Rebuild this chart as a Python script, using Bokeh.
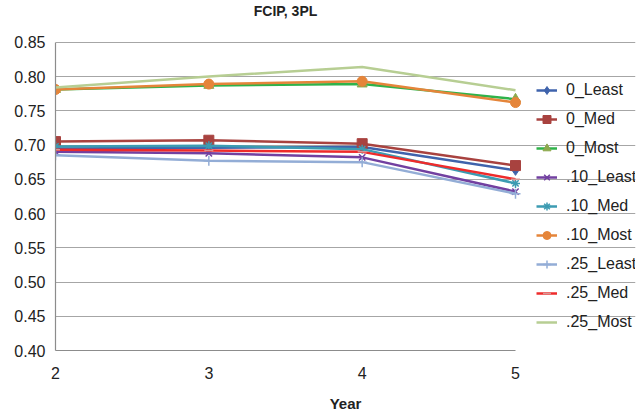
from bokeh.plotting import figure
from bokeh.models import Legend, LegendItem, FixedTicker, NumeralTickFormatter, Range1d, Label
from bokeh.embed import file_html
from bokeh.resources import INLINE

years = [2, 3, 4, 5]
series_names = ["0_Least", "0_Med", "0_Most", ".10_Least", ".10_Med", ".10_Most",
                ".25_Least", ".25_Med", ".25_Most"]
v_0_least = [0.695, 0.696, 0.697, 0.663]
v_0_med = [0.705, 0.707, 0.702, 0.670]
v_0_most = [0.781, 0.787, 0.789, 0.767]
v_10_least = [0.690, 0.688, 0.682, 0.632]
v_10_med = [0.698, 0.699, 0.694, 0.644]
v_10_most = [0.781, 0.789, 0.793, 0.762]
v_25_least = [0.685, 0.677, 0.675, 0.629]
v_25_med = [0.693, 0.692, 0.690, 0.650]
v_25_most = [0.784, 0.800, 0.814, 0.780]
y_ticks = [0.40, 0.45, 0.50, 0.55, 0.60, 0.65, 0.70, 0.75, 0.80, 0.85]
x_ticks = [2, 3, 4, 5]
title_text = "FCIP, 3PL"

values = [v_0_least, v_0_med, v_0_most, v_10_least, v_10_med, v_10_most,
          v_25_least, v_25_med, v_25_most]
line_colors = ["#3F63AC", "#A8423F", "#2FB24A", "#7240A0", "#3C9BB2", "#E5853A",
               "#93ADD6", "#EE2B2B", "#B7CE93"]
marker_colors = ["#3F63AC", "#A8423F", "#8CA84C", "#7240A0", "#3C9BB2", "#E5853A",
                 "#93ADD6", "#D99694", "#B7CE93"]
markers = ["diamond", "square", "triangle", "x", "asterisk", "circle", "cross", "dash", None]
msizes = [10, 10, 10, 9, 9, 10, 10, 9, 0]

# data area: x 55..515 px, y 42..352 px; frame extended to host legend and title
ppx = 460 / 3
ppy = 310 / 0.45
x_end = 2 + 580 / ppx
y_end = 0.85 + 38 / ppy

p = figure(width=639, height=414, output_backend="svg", toolbar_location=None,
           x_range=Range1d(2, x_end), y_range=Range1d(0.40, y_end),
           min_border_left=55, min_border_right=4, min_border_top=4, min_border_bottom=62)
p.outline_line_color = None
p.background_fill_color = "white"
p.border_fill_color = "white"

p.xgrid.grid_line_color = None
p.ygrid.grid_line_color = "#A6A6A6"
p.ygrid.grid_line_width = 1.2
p.ygrid.bounds = (2, 5)

p.yaxis.ticker = FixedTicker(ticks=y_ticks)
p.yaxis.formatter = NumeralTickFormatter(format="0.00")
p.yaxis.bounds = (0.40, 0.85)
p.xaxis.ticker = FixedTicker(ticks=x_ticks)
p.xaxis.bounds = (2, 5)
for ax in (p.xaxis[0], p.yaxis[0]):
    ax.axis_line_color = "#8C8C8C"
    ax.axis_line_width = 1.2
    ax.major_tick_line_color = None
    ax.minor_tick_line_color = None
    ax.major_tick_out = 0
    ax.major_tick_in = 0
    ax.minor_tick_out = 0
    ax.major_label_text_font = "Liberation Sans"
    ax.major_label_text_font_size = "16px"
    ax.major_label_text_color = "#222222"
p.yaxis.major_label_standoff = 10
p.xaxis.major_label_standoff = 16
p.xaxis.axis_label = "Year"
p.xaxis.axis_label_text_font = "Liberation Sans"
p.xaxis.axis_label_text_font_size = "15px"
p.xaxis.axis_label_text_font_style = "bold"
p.xaxis.axis_label_text_color = "#222222"
p.xaxis.axis_label_standoff = 13

title = Label(x=3.5, y=0.85, y_offset=31, text=title_text, text_align="center",
              text_baseline="middle", text_font="Liberation Sans", text_font_size="14px",
              text_font_style="bold", text_color="#222222")
p.add_layout(title)

items = []
for name, vals, lc, mc, mk, ms in zip(series_names, values, line_colors, marker_colors, markers, msizes):
    rs = [p.line(years, vals, line_color=lc, line_width=2.5)]
    if mk is not None:
        if mk in ("x", "asterisk", "cross", "dash"):
            rs.append(p.scatter(years, vals, marker=mk, size=ms, line_color=mc, line_width=1.5))
        else:
            rs.append(p.scatter(years, vals, marker=mk, size=ms, fill_color=mc, line_color=mc))
    items.append(LegendItem(label=name, renderers=rs))

legend = Legend(items=items, location=(481, 18))
legend.label_text_font = "Liberation Sans"
legend.label_text_font_size = "16px"
legend.label_text_color = "#222222"
legend.glyph_width = 21
legend.glyph_height = 20
legend.label_height = 20
legend.spacing = 9
legend.padding = 0
legend.margin = 0
legend.label_standoff = 9
legend.border_line_color = None
legend.background_fill_alpha = 0
p.add_layout(legend, "center")

open("out.html", "w").write(file_html(p, INLINE))
